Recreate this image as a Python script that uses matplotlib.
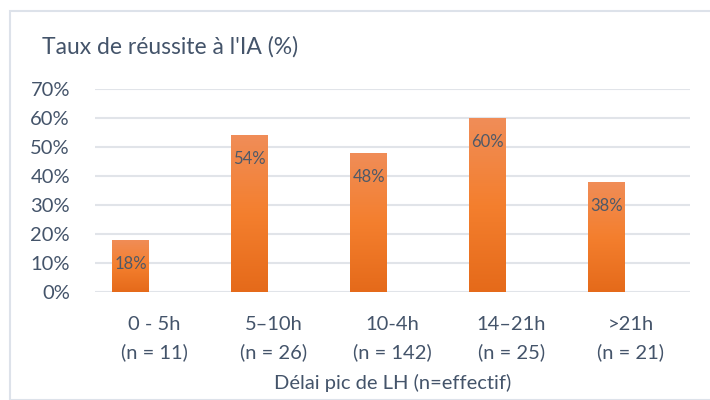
import numpy as np
import matplotlib.pyplot as plt
from matplotlib.colors import LinearSegmentedColormap
from matplotlib.patches import Rectangle

plt.rcParams['font.family'] = ['Lato', 'DejaVu Sans']

categories = ['0 - 5h\n(n = 11)', '5–10h\n(n = 26)', '10-4h\n(n = 142)', '14–21h\n(n = 25)', '>21h\n(n = 21)']
rates = [18, 54, 48, 60, 38]
yticks = [0, 10, 20, 30, 40, 50, 60, 70]

txt = '#44546A'
grid = '#E1E4E9'
cmap = LinearSegmentedColormap.from_list('grad', ['#E56A1A', '#F47F2E', '#F08D58'])

fig = plt.figure(figsize=(7.1, 4), dpi=100)
ax = fig.add_axes([95/710, 1 - 292/400, 595/710, 203/400])

x = np.arange(len(rates))
bars = ax.bar(x - 0.2, rates, width=0.31, color='none', zorder=2)
grad = np.linspace(0, 1, 256).reshape(-1, 1)
for b in bars:
    x0, w, h = b.get_x(), b.get_width(), b.get_height()
    im = ax.imshow(grad, cmap=cmap, origin='lower', aspect='auto',
                   extent=[x0, x0 + w, 0, h], zorder=2)
    im.set_clip_path(b)
    ax.text(x0 + w / 2, h - 8.3, f'{h:.0f}%', ha='center', va='center',
            fontsize=12, color='#4E5968', zorder=3)

ax.set_xlim(-0.5, len(rates) - 0.5)
ax.set_ylim(0, 70)
ax.set_yticks(yticks)
ax.set_yticklabels([f'{v}%' for v in yticks])
ax.set_xticks(x)
ax.set_xticklabels(categories, linespacing=1.7)
ax.tick_params(length=0, labelsize=14.5, colors=txt)
ax.tick_params(axis='y', pad=18)
ax.tick_params(axis='x', pad=17)
ax.yaxis.grid(True, color=grid, linewidth=1.5, zorder=0)
ax.set_axisbelow(True)
for s in ax.spines.values():
    s.set_visible(False)

ax.set_xlabel('Délai pic de LH (n=effectif)', fontsize=14.5, color=txt, labelpad=9)
fig.text(42/710, 1 - 47/400, "Taux de réussite à l'IA (%)", fontsize=16.5, color=txt,
         ha='left', va='center')

fig.add_artist(Rectangle((10/710, 0), 1, 1 - 11/400, transform=fig.transFigure,
                         fill=False, edgecolor='#DDE2EA', linewidth=1.5))

fig.savefig('out.png', dpi=100)
